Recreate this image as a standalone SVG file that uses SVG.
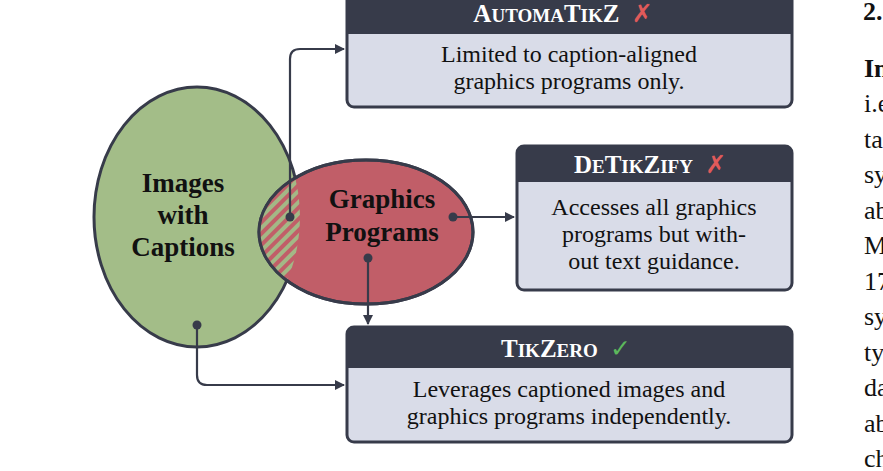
<svg xmlns="http://www.w3.org/2000/svg" width="883" height="471" viewBox="0 0 883 471">
<style>
.hd{fill:#373b4a}
.bd{fill:#d9dce8;stroke:#373b4a;stroke-width:3}
text{font-family:"Liberation Serif","Times New Roman","DejaVu Serif",serif}
.t{font-size:24px;fill:#111;text-anchor:middle}
.h{font-size:25px;font-weight:bold;fill:#fff;text-anchor:middle}
.b{font-size:27px;font-weight:bold;fill:#111;text-anchor:middle}
.r{font-size:26px;fill:#111}
.ln{fill:none;stroke:#373b4a;stroke-width:2.2}
.dot{fill:#373b4a}
</style>
<defs>
<marker id="ar" markerWidth="10" markerHeight="10" refX="9" refY="5" orient="auto" markerUnits="userSpaceOnUse"><path d="M0,0 L10,5 L0,10 z" fill="#373b4a"/></marker>
<pattern id="hatch" width="8" height="8" patternUnits="userSpaceOnUse" patternTransform="rotate(45)"><rect width="8" height="8" fill="#c15e68"/><rect width="4" height="8" fill="#a3b886"/></pattern>
<clipPath id="gc"><ellipse cx="197" cy="217" rx="103" ry="130"/></clipPath>
</defs>
<g id="images">
<ellipse cx="197" cy="217" rx="103" ry="130" fill="#a3bd88" stroke="#373b4a" stroke-width="3"/>
<text class="b" x="183" y="192">Images</text><text class="b" x="183" y="224">with</text><text class="b" x="183" y="256">Captions</text>
</g>
<g id="graphics">
<ellipse cx="366" cy="232" rx="107" ry="72" fill="#c15e68" stroke="#373b4a" stroke-width="3"/>
<ellipse cx="366" cy="232" rx="107" ry="72" fill="url(#hatch)" clip-path="url(#gc)"/>
<ellipse cx="366" cy="232" rx="107" ry="72" fill="none" stroke="#373b4a" stroke-width="3"/>
<text class="b" x="382" y="208">Graphics</text><text class="b" x="382" y="241">Programs</text>
</g>
<g id="automatikz">
<rect class="bd" x="347" y="-10" width="445" height="117" rx="7"/>
<path class="hd" d="M347,-10 H792 V34 H347 Z"/>
<text class="h" x="563" y="22">A<tspan font-size="19">UTOMA</tspan>T<tspan font-size="19">IK</tspan>Z <tspan fill="#e05a5a" font-family="DejaVu Sans" font-weight="normal" dx="6">✗</tspan></text>
<text class="t" x="569" y="62">Limited to caption-aligned</text>
<text class="t" x="569" y="89">graphics programs only.</text>
</g>
<g id="detikzify">
<rect class="bd" x="517" y="146" width="275" height="144" rx="7"/>
<path class="hd" d="M524,146 H785 A7,7 0 0 1 792,153 V182 H517 V153 A7,7 0 0 1 524,146 Z"/>
<text class="h" x="650" y="173">D<tspan font-size="19">E</tspan>T<tspan font-size="19">IK</tspan>Z<tspan font-size="19">IFY</tspan> <tspan fill="#e05a5a" font-family="DejaVu Sans" font-weight="normal" dx="6">✗</tspan></text>
<text class="t" x="654" y="215">Accesses all graphics</text>
<text class="t" x="654" y="242">programs but with-</text>
<text class="t" x="654" y="269">out text guidance.</text>
</g>
<g id="tikzero">
<rect class="bd" x="347" y="327" width="445" height="115" rx="7"/>
<path class="hd" d="M354,327 H785 A7,7 0 0 1 792,334 V368 H347 V334 A7,7 0 0 1 354,327 Z"/>
<text class="h" x="566" y="357">T<tspan font-size="19">IK</tspan>Z<tspan font-size="19">ERO</tspan> <tspan fill="#5cb85c" font-family="DejaVu Sans" font-weight="normal" dx="6">✓</tspan></text>
<text class="t" x="569" y="397">Leverages captioned images and</text>
<text class="t" x="569" y="424">graphics programs independently.</text>
</g>
<g id="connectors">
<path class="ln" d="M290,217 V59 Q290,49 300,49 H344" marker-end="url(#ar)"/>
<path class="ln" d="M453,217 H514" marker-end="url(#ar)"/>
<path class="ln" d="M368,258 V324" marker-end="url(#ar)"/>
<path class="ln" d="M197,325 V375 Q197,385 207,385 H344" marker-end="url(#ar)"/>
<circle class="dot" cx="290" cy="217" r="4.5"/>
<circle class="dot" cx="453" cy="217" r="4.5"/>
<circle class="dot" cx="368" cy="258" r="4.5"/>
<circle class="dot" cx="197" cy="325" r="4.5"/>
</g>
<g id="sidetext">
<text class="r" x="863" y="20" font-weight="bold">2.</text>
<text class="r" x="864" y="77" font-weight="bold">In</text>
<text class="r" x="864" y="112">i.e</text>
<text class="r" x="864" y="148">ta</text>
<text class="r" x="864" y="183">sy</text>
<text class="r" x="864" y="219">ab</text>
<text class="r" x="864" y="254">M</text>
<text class="r" x="864" y="290" fill="#3a7fc1">17</text>
<text class="r" x="864" y="325">sy</text>
<text class="r" x="864" y="361">ty</text>
<text class="r" x="864" y="396">da</text>
<text class="r" x="864" y="432">ab</text>
<text class="r" x="864" y="467">ch</text>
</g>
</svg>
